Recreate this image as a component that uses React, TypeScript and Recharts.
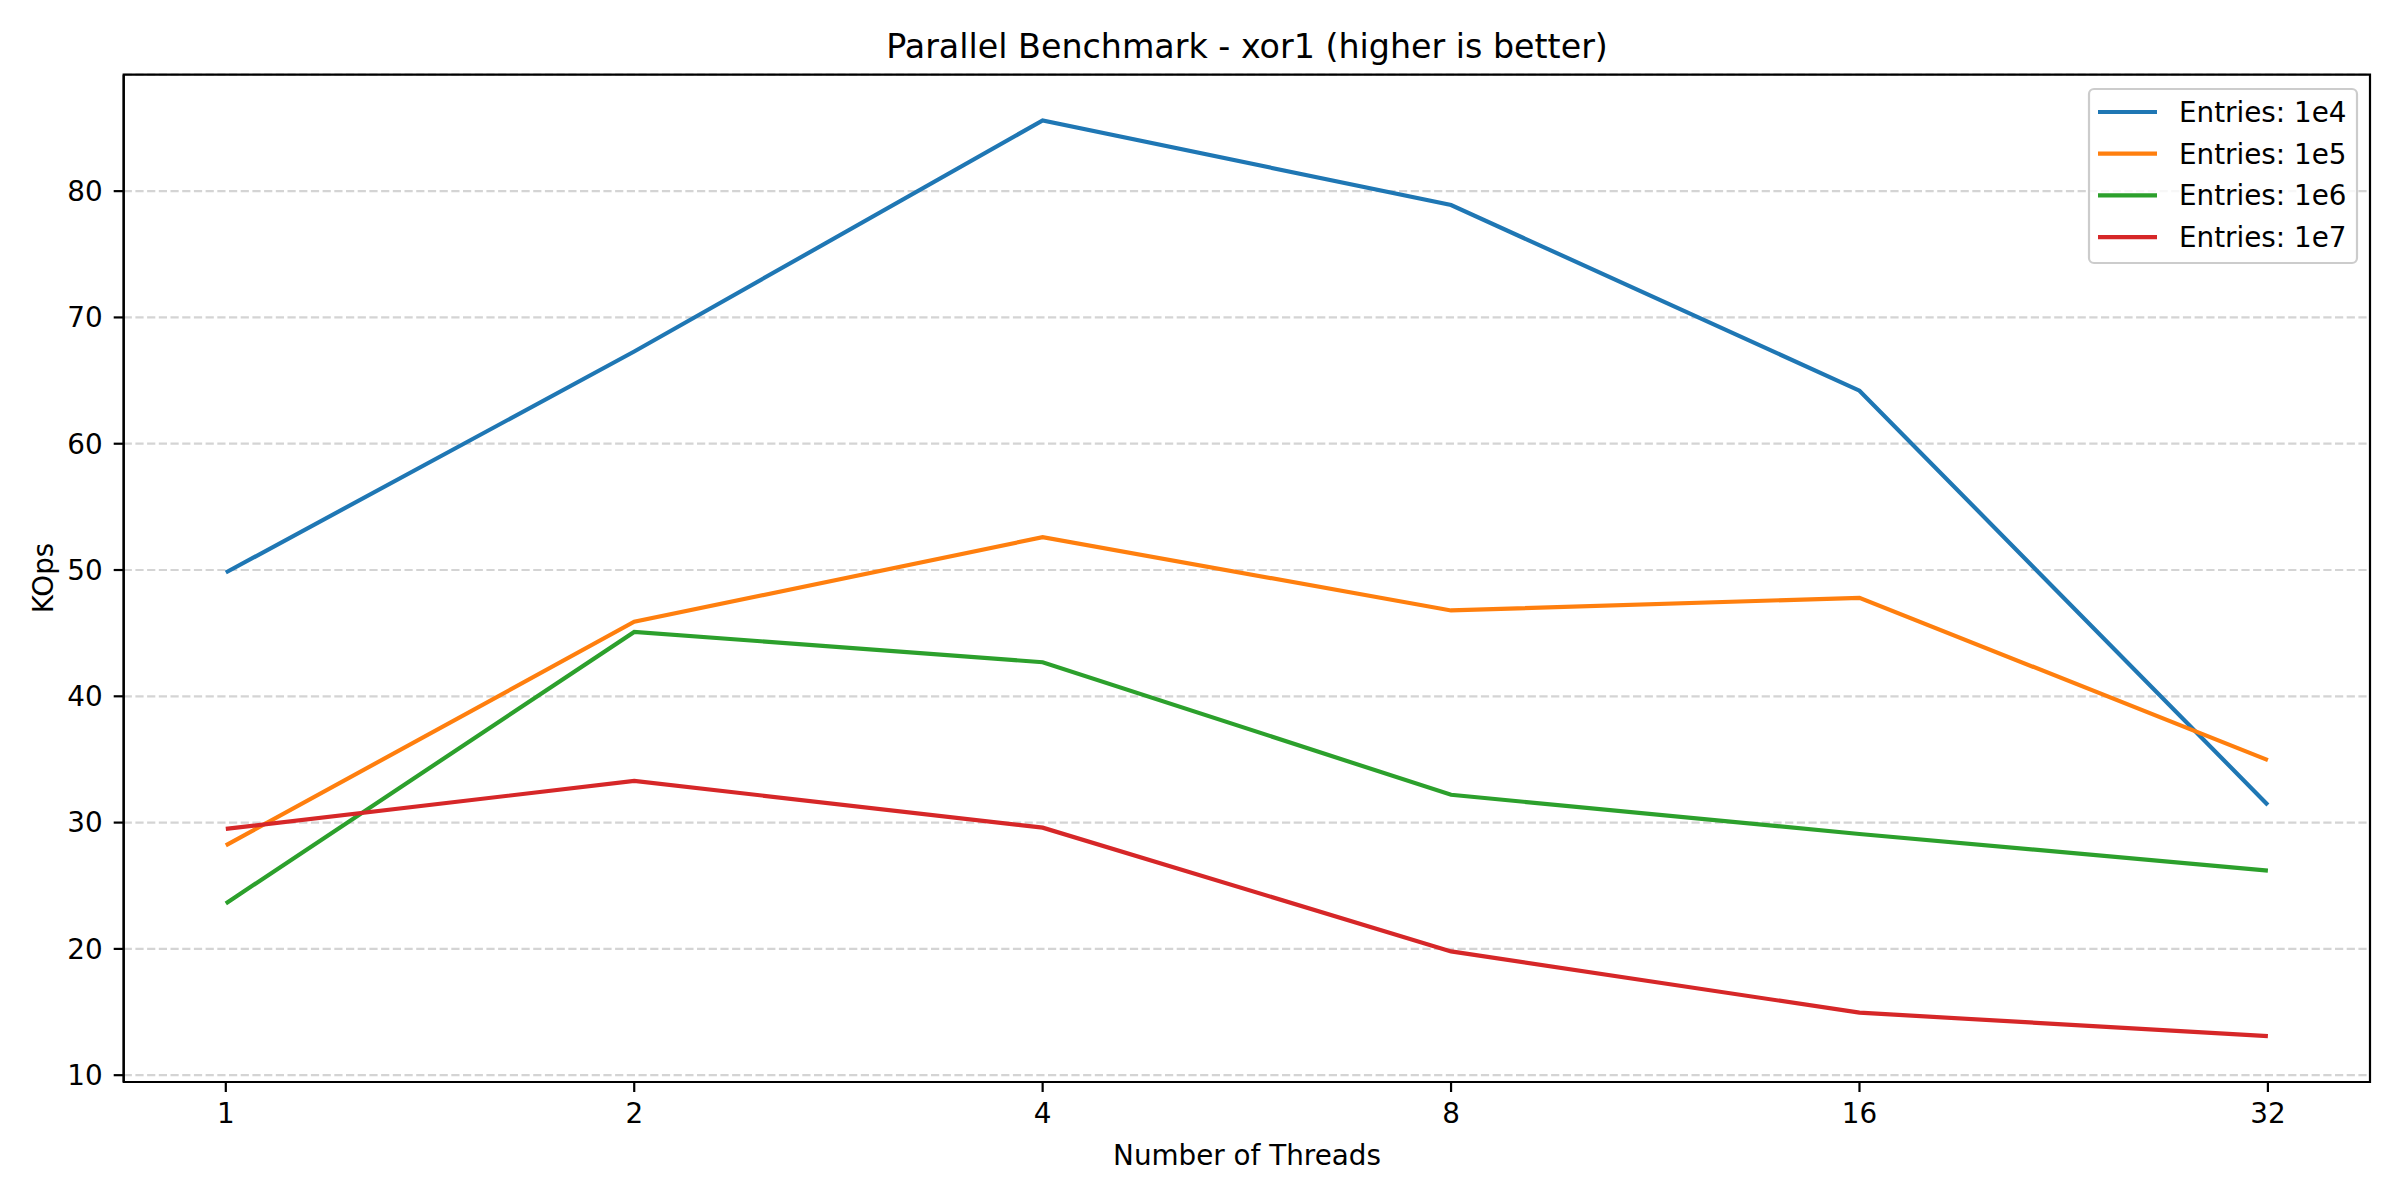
import React from 'react'
import { LineChart, Line, XAxis, YAxis, CartesianGrid, ReferenceArea } from 'recharts'

const THREADS = ['1', '2', '4', '8', '16', '32']
const Y_TICKS = [10, 20, 30, 40, 50, 60, 70, 80]

const ENTRIES_1E4 = [49.8, 67.3, 85.6, 78.9, 64.2, 31.4]
const ENTRIES_1E5 = [28.2, 45.9, 52.6, 46.8, 47.8, 34.95]
const ENTRIES_1E6 = [23.6, 45.1, 42.7, 32.2, 29.1, 26.2]
const ENTRIES_1E7 = [29.5, 33.3, 29.6, 19.8, 14.95, 13.09]

const SERIES = [
  { key: 'e4', name: 'Entries: 1e4', color: '#1f77b4', values: ENTRIES_1E4 },
  { key: 'e5', name: 'Entries: 1e5', color: '#ff7f0e', values: ENTRIES_1E5 },
  { key: 'e6', name: 'Entries: 1e6', color: '#2ca02c', values: ENTRIES_1E6 },
  { key: 'e7', name: 'Entries: 1e7', color: '#d62728', values: ENTRIES_1E7 },
]

const data = THREADS.map((t, i) => {
  const row: Record<string, number> = { x: i }
  for (const s of SERIES) row[s.key] = s.values[i]
  return row
})

const X_DOMAIN: [number, number] = [-0.25, 5.25]
const Y_DOMAIN: [number, number] = [9.46, 89.22]

const FONT = '"DejaVu Sans", sans-serif'
const FS = 27.8
const tickStyle = { fill: '#000', fontSize: FS, fontFamily: FONT }

export default function App() {
  return (
    <div style={{ position: 'absolute', left: 0, top: 0, width: 2400, height: 1200, background: '#fff' }}>
      <LineChart
        width={2400}
        height={1200}
        data={data}
        margin={{ top: 74.7, right: 30, bottom: 58, left: 63.7 }}
      >
        <CartesianGrid vertical={false} stroke="#b0b0b0" strokeOpacity={0.55} strokeWidth={2.2} strokeDasharray="8.2 3.5" />
        <XAxis
          dataKey="x"
          type="number"
          domain={X_DOMAIN}
          ticks={[0, 1, 2, 3, 4, 5]}
          tickFormatter={(v: number) => THREADS[v]}
          allowDataOverflow
          height={60}
          tick={tickStyle}
          tickSize={10}
          tickMargin={11}
          axisLine={{ stroke: '#000', strokeWidth: 2.2 }}
          tickLine={{ stroke: '#000', strokeWidth: 2.2 }}
        />
        <YAxis
          type="number"
          domain={Y_DOMAIN}
          ticks={Y_TICKS}
          allowDataOverflow
          width={60}
          tick={tickStyle}
          tickSize={10}
          tickMargin={11}
          axisLine={{ stroke: '#000', strokeWidth: 2.2 }}
          tickLine={{ stroke: '#000', strokeWidth: 2.2 }}
        />
        {SERIES.map(s => (
          <Line
            key={s.key}
            dataKey={s.key}
            name={s.name}
            type="linear"
            stroke={s.color}
            strokeWidth={4.17}
            dot={false}
            activeDot={false}
            isAnimationActive={false}
          />
        ))}
        <ReferenceArea
          x1={X_DOMAIN[0]}
          x2={X_DOMAIN[1]}
          y1={Y_DOMAIN[0]}
          y2={Y_DOMAIN[1]}
          fill="none"
          fillOpacity={0}
          stroke="#000"
          strokeWidth={2.2}
          ifOverflow="visible"
        />
      </LineChart>
      <svg
        width={2400}
        height={1200}
        style={{ position: 'absolute', left: 0, top: 0, pointerEvents: 'none' }}
        fontFamily={FONT}
      >
        <text x={1247} y={58} textAnchor="middle" fontSize={33.3} fill="#000">
          Parallel Benchmark - xor1 (higher is better)
        </text>
        <text x={1247} y={1165} textAnchor="middle" fontSize={FS} fill="#000">
          Number of Threads
        </text>
        <text x={53} y={578} textAnchor="middle" fontSize={FS} fill="#000" transform="rotate(-90 53 578)">
          KOps
        </text>
        <rect x={2089} y={89} width={268} height={174} rx={5} fill="#fff" fillOpacity={0.8} stroke="#cccccc" strokeWidth={2.2} />
        {SERIES.map((s, i) => {
          const cy = 112 + i * 41.7
          return (
            <g key={s.key}>
              <line x1={2098} x2={2157} y1={cy} y2={cy} stroke={s.color} strokeWidth={4.17} />
              <text x={2179} y={cy + 10} fontSize={FS} fill="#000">
                {s.name}
              </text>
            </g>
          )
        })}
      </svg>
    </div>
  )
}
